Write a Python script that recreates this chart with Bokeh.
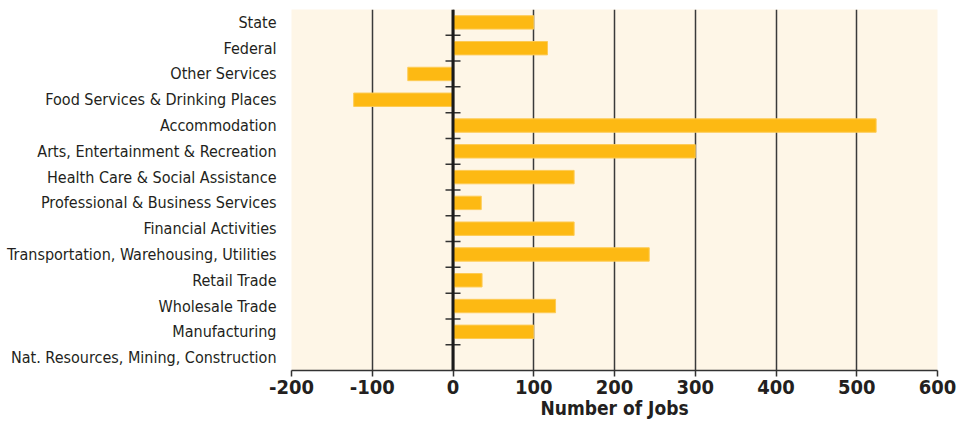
from bokeh.plotting import figure
from bokeh.models import FixedTicker, Range1d, Span
from bokeh.embed import file_html
from bokeh.resources import INLINE

categories = [
    "State",
    "Federal",
    "Other Services",
    "Food Services & Drinking Places",
    "Accommodation",
    "Arts, Entertainment & Recreation",
    "Health Care & Social Assistance",
    "Professional & Business Services",
    "Financial Activities",
    "Transportation, Warehousing, Utilities",
    "Retail Trade",
    "Wholesale Trade",
    "Manufacturing",
    "Nat. Resources, Mining, Construction",
]
jobs = [100, 117, -56, -123, 524, 300, 150, 35, 150, 243, 36, 127, 100, 0]
x_ticks = [-200, -100, 0, 100, 200, 300, 400, 500, 600]
x_tick_labels = ["-200", "-100", "0", "100", "200", "300", "400", "500", "600"]

FONT = "DejaVu Sans Condensed"

n = len(categories)
ypos = [n - 1 - i + 0.5 for i in range(n)]
boundaries = list(range(1, n))

p = figure(
    width=959, height=421,
    output_backend="svg", toolbar_location=None,
    x_range=Range1d(-200, 600), y_range=Range1d(0, n),
    min_border_left=291, min_border_right=22, min_border_top=9, min_border_bottom=40,
)
p.background_fill_color = "#FEF6E7"
p.border_fill_color = "white"
p.outline_line_color = None

p.hbar(y=ypos, right=jobs, left=0, height=0.52,
       fill_color="#FDB913", line_color="#FDCB55", line_width=1)

p.add_layout(Span(location=0, dimension="height", line_color="#1a1a1a", line_width=3))
p.scatter(x=[0] * len(boundaries), y=boundaries, marker="dash", size=15,
          line_color="#333333", line_width=1.5)

p.xaxis.ticker = FixedTicker(ticks=x_ticks)
p.xaxis.major_label_overrides = {t: s for t, s in zip(x_ticks, x_tick_labels)}
p.xaxis.axis_label = "Number of Jobs"
p.xaxis.axis_label_text_font = FONT
p.xaxis.axis_label_text_font_style = "bold"
p.xaxis.axis_label_text_font_size = "19px"
p.xaxis.axis_label_text_color = "#231f20"
p.xaxis.axis_label_standoff = 0
p.xaxis.major_label_text_font = FONT
p.xaxis.major_label_text_font_style = "bold"
p.xaxis.major_label_text_font_size = "20px"
p.xaxis.major_label_text_color = "#231f20"
p.xaxis.major_label_standoff = 3
p.xaxis.axis_line_color = "#333333"
p.xaxis.axis_line_width = 1.5
p.xaxis.major_tick_line_color = "#333333"
p.xaxis.major_tick_line_width = 1.5
p.xaxis.major_tick_in = 0
p.xaxis.major_tick_out = 6
p.xaxis.minor_tick_line_color = None

p.yaxis.ticker = FixedTicker(ticks=ypos)
p.yaxis.major_label_overrides = {y: c for y, c in zip(ypos, categories)}
p.yaxis.major_label_text_font = FONT
p.yaxis.major_label_text_font_size = "16px"
p.yaxis.major_label_text_color = "#231f20"
p.yaxis.major_label_standoff = 9
p.yaxis.axis_line_color = None
p.yaxis.major_tick_line_color = None
p.yaxis.minor_tick_line_color = None

p.xgrid.ticker = FixedTicker(ticks=x_ticks)
p.xgrid.grid_line_color = "#3a3a3a"
p.xgrid.grid_line_width = 1.5
p.ygrid.grid_line_color = None

open("out.html", "w").write(file_html(p, INLINE))
